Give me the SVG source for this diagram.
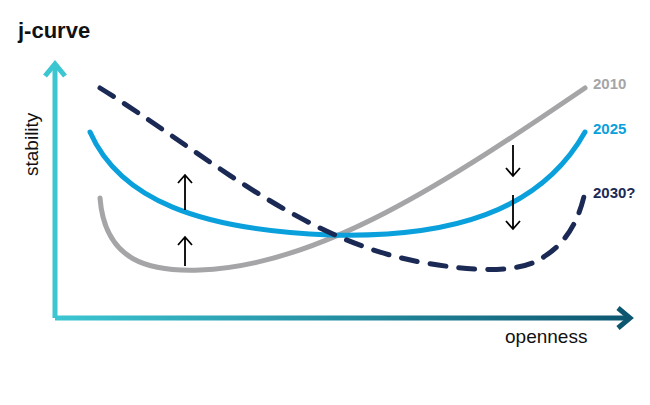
<svg xmlns="http://www.w3.org/2000/svg" width="650" height="405" viewBox="0 0 650 405">
<defs>
<linearGradient id="hg" gradientUnits="userSpaceOnUse" x1="55" y1="0" x2="630" y2="0"><stop offset="0" stop-color="#3cc6d2"/><stop offset="1" stop-color="#0d5670"/></linearGradient>
<marker id="ar" markerWidth="14" markerHeight="14" refX="7" refY="1" orient="auto-start-reverse" markerUnits="userSpaceOnUse"><path d="M1,8 L7,1 L13,8" fill="none" stroke="#000" stroke-width="1.8"/></marker>
</defs>
<style>
.c{fill:none;stroke-width:5;stroke-linecap:round}
.l{font-family:"Liberation Sans",Arial,sans-serif;font-size:15px;font-weight:bold}
.t{font-family:"Liberation Sans",Arial,sans-serif;font-size:19px;fill:#111}
.a{stroke:#000;stroke-width:1.8;fill:none}
</style>
<rect width="650" height="405" fill="#fff"/>
<text x="18" y="38" font-family="Liberation Sans,Arial,sans-serif" font-size="22" font-weight="bold" fill="#111">j-curve</text>
<g id="axes">
<path d="M55,318 V66" stroke="#3cc6d2" stroke-width="5" fill="none"/>
<path d="M45,76 L55,64 L65,76" stroke="#3cc6d2" stroke-width="5" fill="none"/>
<path d="M55,318 H628" stroke="url(#hg)" stroke-width="5" fill="none"/>
<path d="M618,308 L630,318 L618,328" stroke="#0d5670" stroke-width="5" fill="none"/>
<text class="t" transform="translate(38,176) rotate(-90)">stability</text>
<text class="t" x="505" y="343">openness</text>
</g>
<g id="connectors">
<path class="c" stroke="#a5a5a8" d="M100,198 C105,262 150,272 200,270 C320,266 450,180 585,88"/>
<path class="c" stroke="#0aa0dc" d="M90,132 C120,200 200,230 330,235 C450,238 540,212 585,132"/>
<path class="c" stroke="#1b2a55" stroke-dasharray="16,13" d="M100,88 C200,150 300,240 420,262 C470,271 520,275 545,256 C570,240 580,215 585,192"/>
<g class="a">
<path d="M185,210 V175 M178,183 L185,175 L192,183"/>
<path d="M185,266 V237 M178,245 L185,237 L192,245"/>
<path d="M513,145 V176 M506,168 L513,176 L520,168"/>
<path d="M513,195 V229 M506,221 L513,229 L520,221"/>
</g>
</g>
<text class="l" x="593" y="89" fill="#a5a5a8">2010</text>
<text class="l" x="593" y="134" fill="#0aa0dc">2025</text>
<text class="l" x="593" y="198" fill="#1b2a55">2030?</text>
</svg>
